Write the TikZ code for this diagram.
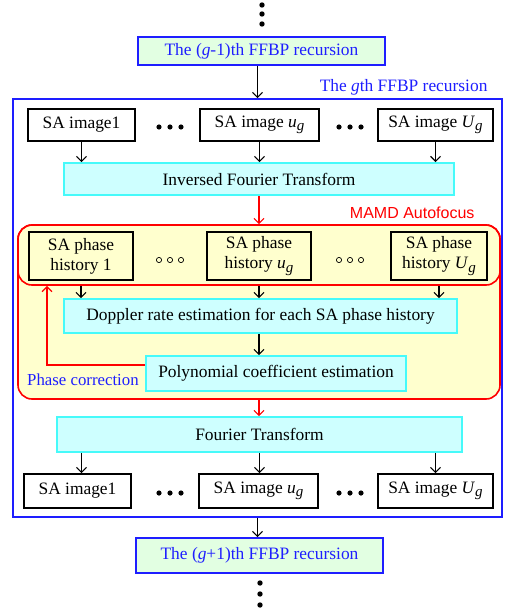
\documentclass[tikz,border=0pt]{standalone}
\usepackage{fontspec}
\setmainfont{Liberation Serif}
\newfontfamily\labelsans{Liberation Sans}
\usetikzlibrary{arrows.meta}
\definecolor{recblue}{RGB}{30,30,255}
\definecolor{recfill}{RGB}{226,255,226}
\definecolor{stepcyan}{RGB}{70,250,250}
\definecolor{stepfill}{RGB}{206,255,255}
\definecolor{focusfill}{RGB}{255,255,206}
\newcommand{\subidx}[2]{\textit{#1}\raisebox{-0.4ex}{\fontsize{15}{15}\selectfont\textit{#2}}}
\begin{document}
\begin{tikzpicture}[x=1pt,y=-1pt,font=\fontsize{17.4}{20}\selectfont,
	recbox/.style={draw=recblue,fill=recfill,line width=1.6pt,text=recblue,minimum width=247pt,inner sep=0pt},
	stepbox/.style={draw=stepcyan,fill=stepfill,line width=1.6pt,inner sep=0pt},
	imgbox/.style={draw=black,fill=white,line width=1.6pt,minimum height=32pt,inner sep=0pt},
	phbox/.style={draw=black,line width=1.6pt,minimum height=48pt,inner sep=0pt,align=center,font=\fontsize{17.4}{20}\selectfont},
	arr/.style={-{Straight Barb[length=5pt,width=10pt]},line width=1.2pt},
	redarr/.style={arr,draw=red},
	vdot/.style={fill=black},
	hdot/.style={draw=black,line width=0.7pt}]
	\useasboundingbox (0,0) rectangle (505,613);
	\node [draw=recblue,line width=1.6pt,minimum width=489pt,minimum height=418pt,inner sep=0pt] (rec) at (257.5,308) {};
	\node [text=recblue,anchor=east] (reclabel) at (491,87) {The \textit{g}th FFBP recursion};
	\node [recbox,minimum height=28pt] (prev) at (261.5,51) {The (\textit{g}-1)th FFBP recursion};
	\node [recbox,minimum height=35pt] (next) at (259.5,555.5) {The (\textit{g}+1)th FFBP recursion};
	\foreach \y in {5,14,24} \fill [vdot] (262,\y) circle (2.7);
	\foreach \y in {583,594,605} \fill [vdot] (260,\y) circle (2.7);
	\node [imgbox,minimum width=107pt] (img1) at (81.5,125) {SA image1};
	\node [imgbox,minimum width=119pt] (img2) at (259.5,125) {SA image \subidx{u}{g}};
	\node [imgbox,minimum width=115pt] (img3) at (435.5,125) {SA image \subidx{U}{g}};
	\foreach \x in {159,170,181,339,350,361} \fill [vdot] (\x,127) circle (2.6);
	\node [stepbox,minimum width=390pt,minimum height=32pt] (ift) at (259,179) {Inversed Fourier Transform};
	\node [draw=red,fill=focusfill,line width=1.6pt,rounded corners=14pt,minimum width=482pt,minimum height=174pt,inner sep=0pt] (mamd) at (259,312) {};
	\node [draw=red,line width=1.6pt,rounded corners=14pt,minimum width=482pt,minimum height=60pt,inner sep=0pt] (mamdtop) at (259,255) {};
	\node [text=red,anchor=east,font=\labelsans\fontsize{16}{19}\selectfont] (mamdlabel) at (478,213) {MAMD Autofocus};
	\node [phbox,minimum width=104pt] (ph1) at (81,256) {SA phase\\history 1};
	\node [phbox,minimum width=104pt] (ph2) at (259,256) {SA phase\\history \subidx{u}{g}};
	\node [phbox,minimum width=96pt] (ph3) at (439,256) {SA phase\\history \subidx{U}{g}};
	\foreach \x in {159,170,181,339,350,361} \draw [hdot] (\x,260) circle (2.6);
	\node [stepbox,minimum width=393pt,minimum height=34pt] (dopp) at (260.5,316) {Doppler rate estimation for each SA phase history};
	\node [stepbox,minimum width=260pt,minimum height=35pt] (poly) at (276,373.5) {Polynomial coefficient estimation};
	\node [text=recblue,anchor=west,inner sep=0pt,font=\fontsize{16.8}{20}\selectfont] (pclabel) at (27,380) {Phase correction};
	\coordinate (pcturn) at (47,365);
	\node [stepbox,minimum width=405pt,minimum height=35pt] (ft) at (259.5,434.5) {Fourier Transform};
	\node [imgbox,minimum width=107pt,minimum height=34pt] (out1) at (77.5,491) {SA image1};
	\node [imgbox,minimum width=119pt,minimum height=34pt] (out2) at (258.5,491) {SA image \subidx{u}{g}};
	\node [imgbox,minimum width=115pt,minimum height=34pt] (out3) at (435.5,491) {SA image \subidx{U}{g}};
	\foreach \x in {159,170,181,339,350,361} \fill [vdot] (\x,493) circle (2.6);
	\draw [arr] (prev.south -| rec.north) -- (rec.north);
	\draw [arr] (img1.south) -- (img1.south |- ift.north);
	\draw [arr] (img2.south) -- (img2.south |- ift.north);
	\draw [arr] (img3.south) -- (img3.south |- ift.north);
	\draw [redarr] (ift.south -| mamd.north) -- (mamd.north);
	\draw [arr] (ph1.south |- mamdtop.south) -- (ph1.south |- dopp.north);
	\draw [arr] (ph2.south |- mamdtop.south) -- (ph2.south |- dopp.north);
	\draw [arr] (ph3.south |- mamdtop.south) -- (ph3.south |- dopp.north);
	\draw [arr] (dopp.south -| mamd.north) -- (mamd.north |- poly.north);
	\draw [redarr] (poly.west |- pcturn) -- (pcturn) -- (pcturn |- mamdtop.south);
	\draw [redarr] (mamd.south) -- (mamd.south |- ft.north);
	\draw [arr] (ft.south -| img1.south) -- (out1.north -| img1.south);
	\draw [arr] (ft.south -| ft.north) -- (out2.north -| ft.north);
	\draw [arr] (ft.south -| img3.south) -- (out3.north -| img3.south);
	\draw [arr] (rec.south) -- (rec.south |- next.north);
\end{tikzpicture}
\end{document}
